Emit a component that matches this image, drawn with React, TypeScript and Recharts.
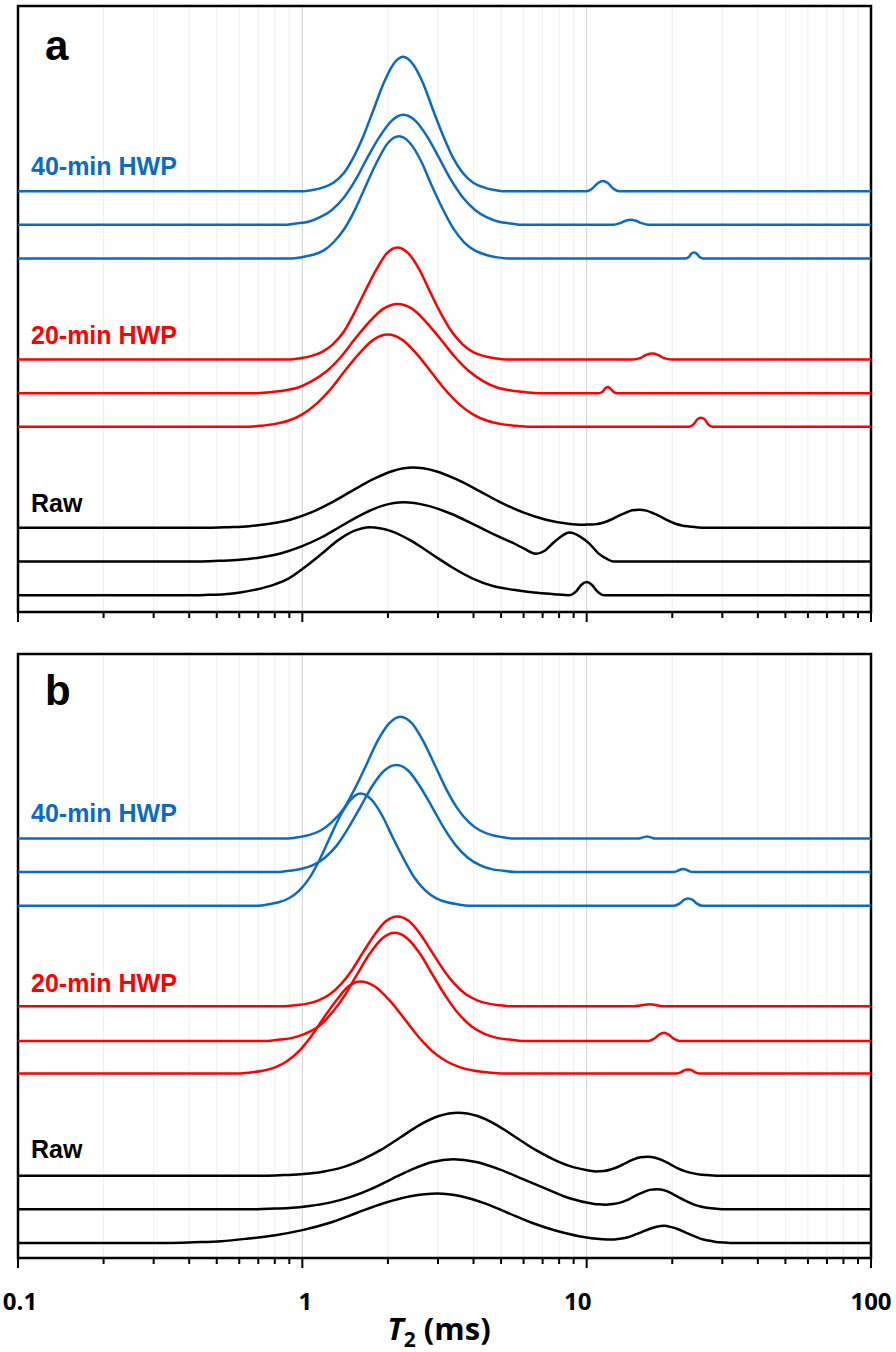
import { CartesianGrid, Line, LineChart, ReferenceArea, XAxis, YAxis } from 'recharts';

type Pt = [number, number];

const majorTicks = [0.1, 1, 10, 100];
const minorTicks = [
  0.2, 0.3, 0.4, 0.5, 0.6, 0.7, 0.8, 0.9,
  2, 3, 4, 5, 6, 7, 8, 9,
  20, 30, 40, 50, 60, 70, 80, 90,
];
const allTicks = [...majorTicks, ...minorTicks].sort((p, q) => p - q);

// panel a: [T2 (ms), height above the curve's own baseline]
const a40_1: Pt[] = [[0.1, 0], [1.01, 0], [1.1, 0.04], [1.19, 0.12], [1.29, 0.26], [1.4, 0.54], [1.51, 0.99], [1.64, 1.64], [1.78, 2.42], [1.93, 3.2], [2.09, 3.77], [2.26, 3.99], [2.45, 3.77], [2.66, 3.2], [2.88, 2.42], [3.13, 1.64], [3.39, 0.99], [3.67, 0.54], [3.98, 0.26], [4.32, 0.12], [4.68, 0.04], [5.07, 0], [9.98, 0], [10.5, 0.09], [10.96, 0.24], [11.4, 0.3], [11.86, 0.24], [12.36, 0.09], [13.03, 0], [100, 0]];
const a40_2: Pt[] = [[0.1, 0], [0.86, 0], [0.95, 0.04], [1.05, 0.09], [1.15, 0.22], [1.27, 0.44], [1.4, 0.81], [1.54, 1.34], [1.69, 1.98], [1.87, 2.62], [2.06, 3.09], [2.26, 3.27], [2.5, 3.09], [2.75, 2.62], [3.03, 1.98], [3.33, 1.34], [3.67, 0.81], [4.05, 0.44], [4.46, 0.22], [4.91, 0.09], [5.41, 0.04], [5.96, 0], [12.4, 0], [13.1, 0.05], [13.7, 0.12], [14.3, 0.15], [14.9, 0.12], [15.6, 0.05], [16.5, 0], [100, 0]];
const a40_3: Pt[] = [[0.1, 0], [0.912, 0], [0.995, 0.04], [1.09, 0.11], [1.19, 0.24], [1.29, 0.49], [1.41, 0.9], [1.54, 1.49], [1.68, 2.2], [1.84, 2.91], [2.0, 3.43], [2.19, 3.63], [2.39, 3.43], [2.61, 2.91], [2.84, 2.2], [3.11, 1.49], [3.39, 0.9], [3.7, 0.49], [4.04, 0.24], [4.41, 0.11], [4.81, 0.04], [5.25, 0], [22.2, 0], [22.9, 0.05], [23.3, 0.14], [23.9, 0.18], [24.4, 0.14], [24.9, 0.05], [25.7, 0], [100, 0]];
const a20_1: Pt[] = [[0.1, 0], [0.902, 0], [0.984, 0.04], [1.07, 0.1], [1.17, 0.22], [1.28, 0.45], [1.4, 0.83], [1.52, 1.37], [1.66, 2.02], [1.82, 2.67], [1.98, 3.15], [2.16, 3.33], [2.36, 3.15], [2.58, 2.67], [2.81, 2.02], [3.07, 1.37], [3.35, 0.83], [3.66, 0.45], [3.99, 0.22], [4.36, 0.1], [4.75, 0.04], [5.19, 0], [14.5, 0], [15.5, 0.05], [16.2, 0.14], [17.0, 0.18], [17.8, 0.14], [18.6, 0.05], [20.0, 0], [100, 0]];
const a20_2: Pt[] = [[0.1, 0], [0.684, 0], [0.767, 0.03], [0.861, 0.08], [0.966, 0.17], [1.08, 0.36], [1.22, 0.66], [1.37, 1.09], [1.53, 1.61], [1.72, 2.12], [1.93, 2.51], [2.16, 2.65], [2.43, 2.51], [2.72, 2.12], [3.06, 1.61], [3.43, 1.09], [3.85, 0.66], [4.32, 0.36], [4.84, 0.17], [5.43, 0.08], [6.1, 0.03], [6.84, 0], [11.1, 0], [11.4, 0.05], [11.6, 0.14], [11.9, 0.18], [12.1, 0.14], [12.4, 0.05], [12.7, 0], [100, 0]];
const a20_3: Pt[] = [[0.1, 0], [0.631, 0], [0.708, 0.03], [0.794, 0.08], [0.891, 0.18], [1.0, 0.37], [1.12, 0.68], [1.26, 1.13], [1.41, 1.66], [1.59, 2.19], [1.78, 2.59], [2.0, 2.74], [2.24, 2.59], [2.51, 2.19], [2.82, 1.66], [3.16, 1.13], [3.55, 0.68], [3.98, 0.37], [4.47, 0.18], [5.01, 0.08], [5.62, 0.03], [6.31, 0], [22.9, 0], [23.8, 0.08], [24.5, 0.22], [25.2, 0.27], [26.0, 0.22], [26.7, 0.08], [27.8, 0], [100, 0]];
const aRaw_1: Pt[] = [[0.1, 0], [0.467, 0], [0.551, 0.02], [0.65, 0.05], [0.767, 0.12], [0.906, 0.24], [1.07, 0.45], [1.26, 0.74], [1.49, 1.09], [1.76, 1.43], [2.08, 1.69], [2.45, 1.79], [2.93, 1.69], [3.51, 1.43], [4.2, 1.09], [5.02, 0.74], [6.01, 0.45], [7.19, 0.24], [8.61, 0.12], [9.66, 0.09], [10.23, 0.1], [10.84, 0.11], [11.48, 0.16], [12.16, 0.24], [12.88, 0.35], [13.65, 0.44], [14.45, 0.52], [15.31, 0.54], [16.22, 0.51], [17.18, 0.43], [18.2, 0.33], [19.28, 0.22], [20.42, 0.13], [21.63, 0.07], [22.91, 0.04], [24.27, 0.02], [26.0, 0], [100, 0]];
const aRaw_2: Pt[] = [[0.1, 0], [0.432, 0], [0.509, 0.02], [0.601, 0.05], [0.71, 0.12], [0.838, 0.24], [0.989, 0.44], [1.17, 0.72], [1.38, 1.07], [1.63, 1.41], [1.92, 1.66], [2.27, 1.76], [2.75, 1.66], [3.35, 1.41], [4.07, 1.07], [4.96, 0.72], [5.51, 0.55], [6.03, 0.38], [6.64, 0.23], [7.12, 0.32], [7.62, 0.55], [8.15, 0.75], [8.67, 0.86], [9.1, 0.82], [9.48, 0.74], [10.2, 0.54], [10.97, 0.25], [11.7, 0.09], [12.4, 0], [100, 0]];
const aRaw_3: Pt[] = [[0.1, 0], [0.42, 0], [0.466, 0.01], [0.531, 0.03], [0.605, 0.08], [0.69, 0.17], [0.787, 0.3], [0.897, 0.5], [1.02, 0.83], [1.17, 1.23], [1.33, 1.62], [1.52, 1.91], [1.73, 2.02], [2.04, 1.91], [2.41, 1.62], [2.84, 1.23], [3.36, 0.83], [3.96, 0.5], [4.68, 0.27], [5.52, 0.16], [6.52, 0.08], [7.69, 0.03], [8.71, 0], [9.2, 0.12], [9.59, 0.31], [10.0, 0.39], [10.42, 0.31], [10.87, 0.12], [11.48, 0], [100, 0]];

// panel b
const b40_1: Pt[] = [[0.1, 0], [0.881, 0], [0.966, 0.04], [1.06, 0.11], [1.16, 0.24], [1.27, 0.49], [1.4, 0.9], [1.53, 1.49], [1.68, 2.2], [1.84, 2.91], [2.02, 3.43], [2.21, 3.63], [2.43, 3.43], [2.66, 2.91], [2.92, 2.2], [3.2, 1.49], [3.51, 0.9], [3.85, 0.49], [4.22, 0.24], [4.62, 0.11], [5.07, 0.04], [5.56, 0], [15.2, 0], [15.6, 0.02], [16.0, 0.05], [16.3, 0.06], [16.6, 0.05], [17.0, 0.02], [17.5, 0], [100, 0]];
const b40_2: Pt[] = [[0.1, 0], [0.813, 0], [0.895, 0.04], [0.986, 0.09], [1.09, 0.21], [1.2, 0.43], [1.32, 0.79], [1.45, 1.31], [1.6, 1.94], [1.76, 2.56], [1.94, 3.02], [2.14, 3.19], [2.36, 3.02], [2.59, 2.56], [2.86, 1.94], [3.15, 1.31], [3.47, 0.79], [3.82, 0.43], [4.21, 0.21], [4.63, 0.09], [5.11, 0.04], [5.62, 0], [20.1, 0], [20.8, 0.03], [21.3, 0.07], [21.8, 0.09], [22.4, 0.07], [22.9, 0.03], [23.7, 0], [100, 0]];
const b40_3: Pt[] = [[0.1, 0], [0.7, 0], [0.76, 0.04], [0.826, 0.1], [0.897, 0.22], [0.975, 0.45], [1.06, 0.83], [1.15, 1.37], [1.25, 2.03], [1.36, 2.68], [1.48, 3.16], [1.6, 3.34], [1.75, 3.16], [1.91, 2.68], [2.08, 2.03], [2.28, 1.37], [2.48, 0.83], [2.71, 0.45], [2.96, 0.22], [3.23, 0.1], [3.52, 0.04], [3.85, 0], [20.3, 0], [21.2, 0.06], [22.0, 0.17], [22.7, 0.21], [23.6, 0.17], [24.4, 0.06], [25.5, 0], [100, 0]];
const b20_1: Pt[] = [[0.1, 0], [0.861, 0], [0.944, 0.03], [1.04, 0.08], [1.14, 0.18], [1.25, 0.36], [1.37, 0.67], [1.5, 1.1], [1.64, 1.63], [1.8, 2.15], [1.97, 2.54], [2.16, 2.68], [2.37, 2.54], [2.6, 2.15], [2.85, 1.63], [3.13, 1.1], [3.43, 0.67], [3.76, 0.36], [4.12, 0.18], [4.52, 0.08], [4.96, 0.03], [5.43, 0], [14.6, 0], [15.3, 0.02], [16.0, 0.05], [16.6, 0.06], [17.3, 0.05], [17.9, 0.02], [18.9, 0], [100, 0]];
const b20_2: Pt[] = [[0.1, 0], [0.75, 0], [0.832, 0.04], [0.923, 0.09], [1.02, 0.21], [1.14, 0.43], [1.26, 0.8], [1.4, 1.32], [1.55, 1.95], [1.72, 2.58], [1.91, 3.05], [2.11, 3.22], [2.34, 3.05], [2.6, 2.58], [2.88, 1.95], [3.2, 1.32], [3.55, 0.8], [3.94, 0.43], [4.37, 0.21], [4.84, 0.09], [5.37, 0.04], [5.96, 0], [16.5, 0], [17.3, 0.07], [18.0, 0.19], [18.7, 0.24], [19.4, 0.19], [20.2, 0.07], [21.2, 0], [100, 0]];
const b20_3: Pt[] = [[0.1, 0], [0.596, 0], [0.658, 0.03], [0.726, 0.08], [0.802, 0.18], [0.885, 0.37], [0.977, 0.68], [1.08, 1.13], [1.19, 1.66], [1.32, 2.19], [1.45, 2.59], [1.6, 2.74], [1.8, 2.59], [2.02, 2.19], [2.27, 1.66], [2.54, 1.13], [2.85, 0.68], [3.2, 0.37], [3.59, 0.18], [4.03, 0.08], [4.52, 0.03], [5.07, 0], [20.7, 0], [21.5, 0.04], [22.1, 0.1], [22.7, 0.12], [23.4, 0.1], [24.0, 0.04], [24.9, 0], [100, 0]];
const bRaw_1: Pt[] = [[0.1, 0], [0.738, 0], [0.863, 0.02], [1.01, 0.05], [1.18, 0.12], [1.38, 0.25], [1.61, 0.47], [1.89, 0.77], [2.21, 1.14], [2.58, 1.51], [3.02, 1.78], [3.53, 1.88], [4.13, 1.78], [4.83, 1.51], [5.65, 1.14], [6.61, 0.77], [7.73, 0.47], [9.04, 0.25], [10.16, 0.16], [10.79, 0.13], [11.46, 0.14], [12.16, 0.19], [12.91, 0.27], [13.71, 0.38], [14.55, 0.48], [15.45, 0.55], [16.41, 0.57], [17.42, 0.54], [18.49, 0.46], [19.63, 0.35], [20.84, 0.23], [22.13, 0.14], [23.5, 0.08], [24.95, 0.04], [26.48, 0.02], [28.5, 0], [100, 0]];
const bRaw_2: Pt[] = [[0.1, 0], [0.646, 0], [0.762, 0.02], [0.899, 0.04], [1.06, 0.1], [1.25, 0.2], [1.48, 0.37], [1.75, 0.61], [2.06, 0.9], [2.43, 1.19], [2.87, 1.41], [3.39, 1.49], [4.09, 1.41], [4.94, 1.19], [5.97, 0.9], [7.21, 0.61], [8.71, 0.33], [10.52, 0.17], [11.0, 0.15], [11.64, 0.14], [12.36, 0.16], [13.12, 0.2], [13.93, 0.28], [14.79, 0.4], [15.7, 0.5], [16.67, 0.58], [17.7, 0.6], [18.79, 0.565], [19.95, 0.47], [21.18, 0.35], [22.49, 0.24], [23.88, 0.14], [25.35, 0.08], [26.92, 0.04], [28.58, 0.02], [30.5, 0], [100, 0]];
const bRaw_3: Pt[] = [[0.1, 0], [0.335, 0], [0.417, 0.02], [0.519, 0.05], [0.646, 0.13], [0.804, 0.23], [1.0, 0.38], [1.25, 0.6], [1.55, 0.89], [1.93, 1.18], [2.4, 1.39], [2.99, 1.47], [3.61, 1.39], [4.38, 1.18], [5.3, 0.89], [6.41, 0.6], [7.76, 0.37], [9.4, 0.2], [11.38, 0.11], [12.3, 0.1], [13.06, 0.125], [13.87, 0.16], [14.72, 0.24], [15.63, 0.32], [16.6, 0.415], [17.62, 0.48], [18.71, 0.51], [19.86, 0.47], [21.09, 0.4], [22.39, 0.3], [23.77, 0.21], [25.23, 0.12], [26.79, 0.07], [28.44, 0.03], [30.2, 0.01], [32, 0], [100, 0]];

// baselines of the stacked curves, same order as the series lists
const aOffsets = [12.5, 11.5, 10.5, 7.5, 6.5, 5.5, 2.5, 1.5, 0.5];
const bOffsets = [12.5, 11.5, 10.5, 7.5, 6.47, 5.5, 2.45, 1.45, 0.45];

const groupLabels = ['40-min HWP', '20-min HWP', 'Raw'];

const BLUE = '#0b6bc1';
const RED = '#ff0000';
const BLACK = '#000000';
const groupColors = [BLUE, RED, BLACK];

const aSeries = [a40_1, a40_2, a40_3, a20_1, a20_2, a20_3, aRaw_1, aRaw_2, aRaw_3];
const bSeries = [b40_1, b40_2, b40_3, b20_1, b20_2, b20_3, bRaw_1, bRaw_2, bRaw_3];

const toRows = (pts: Pt[], offset: number) => pts.map(([t, v]) => ({ t, y: v + offset }));

const gridX = (p: any, values: number[]) => {
  const s = p?.xAxis?.scale;
  if (typeof s === 'function') return values.map((v) => s(v));
  if (s && typeof s.map === 'function') return values.map((v) => s.map(v));
  return [];
};

// small nudges so the numbers sit where the original put them
const labelShift: Record<string, number> = { '0.1': 2, '1': 3, '10': -9, '100': 0 };

const AxisTick = (props: any) => {
  const { x, y, payload, showLabels } = props;
  const v = payload.value;
  const major = majorTicks.includes(v);
  return (
    <g>
      <line x1={x} x2={x} y1={y} y2={y + (major ? 10 : 6)} stroke="#000" strokeWidth={2} />
      {showLabels && major ? (
        <text x={x + (labelShift[String(v)] || 0)} y={y + 52} textAnchor="middle" fontFamily="'Open Sans', sans-serif" fontWeight={700} fontSize={24} fill="#000">
          {String(v)}
        </text>
      ) : null}
    </g>
  );
};

function Panel({ series, offsets, top, height, axisHeight, showLabels }: any) {
  return (
    <div style={{ position: 'absolute', left: 0, top }}>
      <LineChart width={896} height={height} margin={{ top: 6, right: 25, bottom: 0, left: 18 }}>
        <CartesianGrid horizontal={false} stroke="#efefef" verticalCoordinatesGenerator={(p: any) => gridX(p, minorTicks)} />
        <CartesianGrid horizontal={false} stroke="#d2d2d2" verticalCoordinatesGenerator={(p: any) => gridX(p, [1, 10])} />
        <XAxis
          dataKey="t"
          type="number"
          scale="log"
          domain={[0.1, 100]}
          allowDataOverflow
          ticks={allTicks}
          interval={0}
          height={axisHeight}
          axisLine={false}
          tickLine={false}
          tickSize={0}
          tickMargin={0}
          tick={(p: any) => <AxisTick {...p} showLabels={showLabels} />}
        />
        <YAxis type="number" domain={[0, 18]} allowDataOverflow hide />
        <ReferenceArea x1={0.1} x2={100} y1={0} y2={18} fill="none" stroke="#000" strokeWidth={2.5} ifOverflow="visible" />
        {series.map((pts: Pt[], i: number) => (
          <Line
            key={i}
            data={toRows(pts, offsets[i])}
            dataKey="y"
            type="monotone"
            stroke={groupColors[Math.floor(i / 3)]}
            strokeWidth={2.5}
            dot={false}
            activeDot={false}
            isAnimationActive={false}
          />
        ))}
      </LineChart>
    </div>
  );
}

const labelFont = "'Liberation Sans', Arial, sans-serif";

export default function App() {
  return (
    <div style={{ position: 'absolute', left: 0, top: 0, width: 896, height: 1352, background: '#fff' }}>
      <Panel series={aSeries} offsets={aOffsets} top={0} height={630} axisHeight={18} showLabels={false} />
      <Panel series={bSeries} offsets={bOffsets} top={648} height={704} axisHeight={94} showLabels />
      <svg width={896} height={1352} style={{ position: 'absolute', left: 0, top: 0, pointerEvents: 'none' }}>
        <text x={45} y={60} fontFamily={labelFont} fontWeight={700} fontSize={42} fill="#000">a</text>
        <text x={45} y={705} fontFamily={labelFont} fontWeight={700} fontSize={42} fill="#000">b</text>
        {[175, 344, 512].map((yy, i) => (
          <text key={'a' + i} x={31} y={yy} fontFamily={labelFont} fontWeight={700} fontSize={25} fill={groupColors[i]}>{groupLabels[i]}</text>
        ))}
        {[822, 992, 1158].map((yy, i) => (
          <text key={'b' + i} x={31} y={yy} fontFamily={labelFont} fontWeight={700} fontSize={25} fill={groupColors[i]}>{groupLabels[i]}</text>
        ))}
        <text x={439} y={1340} textAnchor="middle" fontFamily="'Open Sans', sans-serif" fontWeight={700} fontSize={31} fill="#000">
          <tspan fontStyle="italic">T</tspan>
          <tspan fontSize={21} dy={7}>2</tspan>
          <tspan dy={-7}> (ms)</tspan>
        </text>
      </svg>
    </div>
  );
}
